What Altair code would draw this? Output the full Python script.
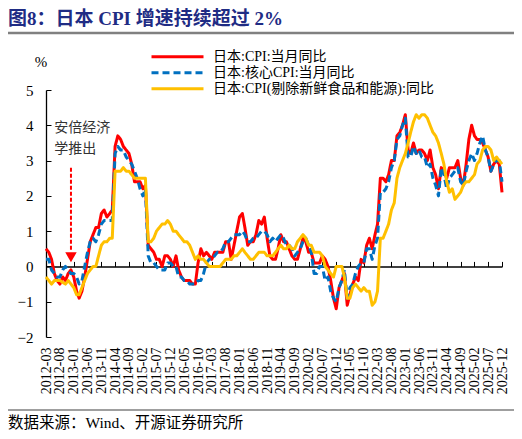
import altair as alt
import pandas as pd

# monthly, 2012-03 .. 2025-12
months = pd.date_range("2012-03-01", "2025-12-01", freq="MS")

cpi = [0.5, 0.4, 0.2, -0.2, -0.4, -0.5, -0.3, -0.4, -0.2, -0.1,
       -0.3, -0.7, -0.9, -0.7, -0.3, 0.2, 0.7, 0.9, 1.1, 1.1, 1.5, 1.6,
       1.4, 1.5, 1.6, 3.4, 3.7, 3.6, 3.4, 3.3, 3.2, 2.9, 2.4, 2.4,
       2.4, 2.2, 2.3, 0.6, 0.5, 0.4, 0.2, 0.2, 0.0, 0.3, 0.3, 0.2,
       0.0, 0.3, -0.1, -0.3, -0.4, -0.4, -0.4, -0.5, -0.5, 0.1, 0.5, 0.3,
       0.4, 0.3, 0.2, 0.4, 0.4, 0.4, 0.4, 0.7, 0.7, 0.2, 0.6, 1.0,
       1.4, 1.5, 1.1, 0.6, 0.7, 0.7, 0.9, 1.3, 1.2, 1.4, 0.8, 0.3,
       0.2, 0.2, 0.5, 0.9, 0.7, 0.7, 0.5, 0.3, 0.2, 0.2, 0.5, 0.8,
       0.7, 0.4, 0.4, 0.1, 0.1, 0.1, 0.3, 0.2, 0.0, -0.4, -0.9, -1.2,
       -0.6, -0.4, -0.2, -1.1, -0.8, -0.5, -0.3, -0.4, 0.2, 0.1, 0.6, 0.8,
       0.5, 0.9, 1.2, 2.5, 2.5, 2.4, 2.6, 3.0, 3.0, 3.7, 3.8, 4.0,
       4.3, 3.3, 3.2, 3.5, 3.2, 3.3, 3.3, 3.2, 3.0, 3.3, 2.8, 2.6,
       2.2, 2.8, 2.7, 2.5, 2.8, 2.8, 2.8, 3.0, 2.5, 2.3, 2.9, 3.6,
       4.0, 3.7, 3.6, 3.6, 3.5, 3.3, 3.1, 2.7, 2.9, 3.0, 2.9, 2.1]

core = [0.2, 0.2, -0.1, -0.2, -0.3, -0.3, -0.1, 0.0, -0.1, -0.2,
        -0.2, -0.3, -0.5, -0.4, 0.0, 0.4, 0.7, 0.8, 0.7, 0.9, 1.2, 1.3,
        1.3, 1.3, 1.3, 3.2, 3.4, 3.3, 3.3, 3.1, 3.0, 2.9, 2.7, 2.5,
        2.2, 2.0, 2.2, 0.3, 0.1, 0.1, 0.0, -0.1, -0.1, -0.1, 0.1, 0.1,
        0.0, 0.0, -0.3, -0.3, -0.4, -0.4, -0.5, -0.5, -0.5, -0.4, -0.4, -0.2,
        0.1, 0.2, 0.2, 0.3, 0.4, 0.4, 0.5, 0.7, 0.7, 0.8, 0.9, 0.9,
        0.9, 1.0, 0.9, 0.7, 0.7, 0.8, 0.8, 0.9, 1.0, 1.0, 0.9, 0.7,
        0.8, 0.7, 0.8, 0.9, 0.8, 0.6, 0.6, 0.5, 0.3, 0.4, 0.5, 0.7,
        0.8, 0.6, 0.4, -0.2, -0.2, 0.0, 0.0, -0.4, -0.3, -0.7, -0.9, -1.0,
        -0.6, -0.4, -0.1, -0.9, -0.6, -0.5, -0.2, 0.0, 0.1, 0.1, 0.5, 0.5,
        0.2, 0.6, 0.8, 2.1, 2.1, 2.2, 2.4, 2.8, 3.0, 3.6, 3.7, 4.0,
        4.2, 3.1, 3.1, 3.4, 3.2, 3.3, 3.1, 3.1, 2.8, 2.9, 2.5, 2.3,
        2.0, 2.8, 2.6, 2.2, 2.5, 2.6, 2.7, 2.8, 2.4, 2.3, 2.7, 3.0,
        3.2, 3.0, 3.2, 3.5, 3.7, 3.3, 3.1, 2.7, 2.9, 3.0, 3.0, 2.4]

core_core = [-0.3, -0.4, -0.5, -0.4, -0.4, -0.4, -0.45, -0.5, -0.4, -0.5,
             -0.6, -0.8, -0.8, -0.6, -0.4, -0.2, -0.1, 0.0, 0.0, 0.3, 0.6, 0.7,
             0.7, 0.8, 0.8, 2.7, 2.7, 2.7, 2.8, 2.7, 2.7, 2.6, 2.5, 2.5,
             2.5, 2.5, 2.5, 0.7, 0.7, 0.8, 1.0, 1.1, 1.2, 1.2, 1.3, 1.2,
             1.0, 1.0, 0.9, 0.8, 0.7, 0.7, 0.6, 0.4, 0.2, 0.3, 0.2, 0.2,
             0.1, 0.0, 0.0, 0.0, 0.0, 0.0, 0.1, 0.2, 0.2, 0.2, 0.3, 0.3,
             0.4, 0.5, 0.4, 0.3, 0.2, 0.2, 0.3, 0.4, 0.4, 0.4, 0.3, 0.3,
             0.3, 0.4, 0.5, 0.6, 0.5, 0.5, 0.6, 0.5, 0.5, 0.7, 0.8, 0.9,
             0.8, 0.6, 0.6, 0.4, 0.4, 0.4, 0.3, 0.0, -0.1, -0.2, -0.3, 0.0,
             0.0, 0.0, -0.3, -0.9, -0.9, -0.6, -0.5, -0.6, -0.7, -0.6, -0.7, -0.7,
             -1.1, -1.0, -0.7, 0.8, 0.8, 1.0, 1.2, 1.6, 1.8, 2.5, 2.8, 3.0,
             3.2, 3.5, 3.8, 4.1, 4.3, 4.2, 4.3, 4.3, 4.2, 4.0, 3.8, 3.7,
             3.5, 3.2, 2.9, 2.4, 2.1, 2.2, 1.9, 2.0, 2.1, 2.3, 2.4, 2.4,
             2.5, 2.6, 2.9, 3.0, 3.3, 3.4, 3.4, 3.3, 3.0, 3.1, 3.0, 2.9]

tick_months = ["2012-03", "2012-08", "2013-01", "2013-06", "2013-11", "2014-04",
               "2014-09", "2015-02", "2015-07", "2015-12", "2016-05", "2016-10",
               "2017-03", "2017-08", "2018-01", "2018-06", "2018-11", "2019-04",
               "2019-09", "2020-02", "2020-07", "2020-12", "2021-05", "2021-10",
               "2022-03", "2022-08", "2023-01", "2023-06", "2023-11", "2024-04",
               "2024-09", "2025-02", "2025-07", "2025-12"]

names = ["日本:CPI:当月同比", "日本:核心CPI:当月同比", "日本:CPI(剔除新鲜食品和能源):同比"]
colors = ["#FF0000", "#0070C0", "#FFC000"]
dashes = [[1, 0], [7, 4], [1, 0]]

df = pd.concat([pd.DataFrame({"month": months, "value": v, "series": n})
                for n, v in zip(names, [cpi, core, core_core])])

# Abenomics annotation
note_df = pd.DataFrame({"month": [pd.Timestamp("2012-06-01")] * 2,
                        "y": [3.92, 3.32], "text": ["安倍经济", "学推出"]})
arrow_df = pd.DataFrame({"month": [pd.Timestamp("2012-12-01")],
                         "top": [2.8], "bottom": [0.42], "head": [0.26]})

W, H = 456, 247
serif = "Liberation Serif, Noto Sans CJK SC"
cjk = "Noto Sans CJK SC"

tick_vals = [alt.DateTime(year=int(t[:4]), month=int(t[5:]), date=1) for t in tick_months]
xscale = alt.Scale(domain=[alt.DateTime(year=2012, month=3, date=1),
                           alt.DateTime(year=2025, month=12, date=1)], nice=False)
yscale = alt.Scale(domain=[-2, 5], nice=False)

lines = alt.Chart(df).mark_line(strokeWidth=3, strokeJoin="round").encode(
    x=alt.X("month:T", scale=xscale,
            axis=alt.Axis(orient="bottom", values=tick_vals, format="%Y-%m", labelAngle=-90,
                          labelFont=serif, labelFontSize=14, labelColor="black",
                          domain=False, ticks=False, grid=False, labelPadding=10,
                          labelOverlap=False, labelFlush=False, title=None)),
    y=alt.Y("value:Q", scale=yscale,
            axis=alt.Axis(orient="left", values=list(range(-2, 6)), domainColor="black",
                          domainWidth=1.3, ticks=False, grid=False, labelFont=serif,
                          labelFontSize=15, labelColor="black", labelPadding=13, title=None)),
    color=alt.Color("series:N", scale=alt.Scale(domain=names, range=colors),
                    legend=alt.Legend(title=None)),
    strokeDash=alt.StrokeDash("series:N", scale=alt.Scale(domain=names, range=dashes),
                              legend=alt.Legend(title=None)),
)

# zero line with the month ticks, and inward ticks on the value axis
shaft = alt.Chart(arrow_df).mark_rule(color="#FF0000", strokeWidth=2, strokeDash=[4, 2]).encode(
    x=alt.X("month:T", scale=xscale,
            axis=alt.Axis(orient="top", offset=-H * 5 / 7, values=tick_vals, labels=False,
                          ticks=True, tickSize=5, tickColor="black", tickWidth=1,
                          domain=True, domainColor="black", domainWidth=1.5,
                          grid=False, title=None)),
    y=alt.Y("top:Q", scale=yscale,
            axis=alt.Axis(orient="right", offset=-W, values=list(range(-2, 6)), labels=False,
                          ticks=True, tickSize=5, tickColor="black", domain=False,
                          grid=False, title=None)),
    y2="bottom:Q",
)

head = alt.Chart(arrow_df).mark_point(shape="triangle-down", filled=True, color="#FF0000",
                                      size=130, opacity=1).encode(
    x=alt.X("month:T", scale=xscale, axis=None),
    y=alt.Y("head:Q", scale=yscale, axis=None),
)

note = alt.Chart(note_df).mark_text(align="left", baseline="middle", font=cjk,
                                    fontSize=14, color="#333333").encode(
    x=alt.X("month:T", scale=xscale, axis=None),
    y=alt.Y("y:Q", scale=yscale, axis=None),
    text="text:N",
)

blank = pd.DataFrame({"k": [0]})
title = alt.Chart(blank).mark_text(text="图8：日本\u00a0CPI\u00a0增速持续超过\u00a02%", align="left",
                                   baseline="middle", font=serif, fontSize=19,
                                   fontWeight="bold", color="#1F2C84").encode(
    x=alt.value(-38), y=alt.value(-71))
top_rule = alt.Chart(blank).mark_rule(color="#808080", strokeWidth=2.5).encode(
    x=alt.value(-38), x2=alt.value(468), y=alt.value(-57))
pct = alt.Chart(blank).mark_text(text="%", align="center", baseline="middle",
                                 font=serif, fontSize=15, color="black").encode(
    x=alt.value(-5), y=alt.value(-28))
bottom_rule = alt.Chart(blank).mark_rule(color="#404040", strokeWidth=1.2).encode(
    x=alt.value(-38), x2=alt.value(468), y=alt.value(320))
source = alt.Chart(blank).mark_text(text="数据来源：Wind、开源证券研究所", align="left",
                                    baseline="middle", font=serif, fontSize=15.5,
                                    color="black").encode(
    x=alt.value(-38), y=alt.value(333))

chart = alt.layer(lines, shaft, head, note, title, top_rule, pct, bottom_rule, source).properties(
    width=W, height=H,
    padding={"left": 38, "top": 82, "right": 12, "bottom": 94},
    autosize=alt.AutoSizeParams(type="none"),
).resolve_axis(x="independent", y="independent").configure_view(
    stroke=None
).configure_legend(
    orient="none", legendX=104, legendY=-41, symbolType="stroke", symbolSize=2704,
    symbolStrokeWidth=3, labelFont=serif, labelFontSize=14, labelColor="black",
    labelOffset=8, rowPadding=0, padding=0, clipHeight=15.5, labelLimit=400,
)

chart.save("out.html", embed_options={"renderer": "svg", "actions": False})
